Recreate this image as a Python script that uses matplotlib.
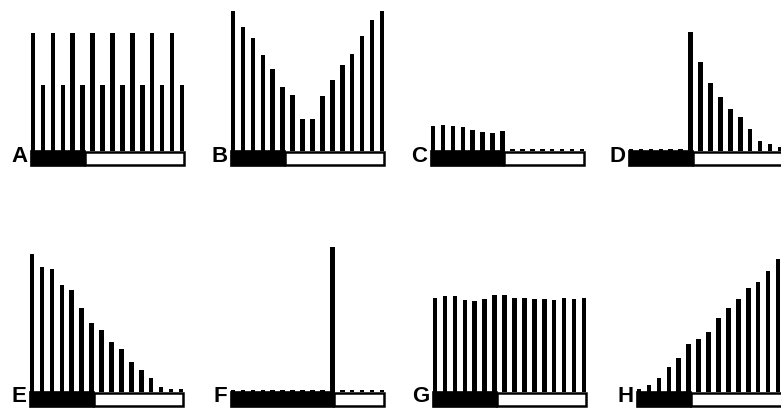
import numpy as np
import matplotlib.pyplot as plt
from matplotlib.patches import Rectangle

# Высоты столбиков (условные единицы), 16 импульсов в каждой панели
labels = ['A', 'B', 'C', 'D', 'E', 'F', 'G', 'H']

heights_a = [118, 66, 118, 66, 118, 66, 118, 66, 118, 66, 118, 66, 118, 66, 118, 66]
heights_b = [140, 124, 113, 96, 82, 64, 56, 32, 32, 55, 71, 86, 97, 115, 131, 140]
heights_c = [25, 26, 25, 24, 21, 19, 18, 20, 2, 2, 2, 2, 2, 2, 2, 2]
heights_d = [2, 2, 2, 2, 2, 2, 119, 89, 68, 54, 42, 34, 22, 10, 7, 4]
heights_e = [138, 125, 123, 107, 102, 84, 69, 62, 50, 43, 30, 22, 14, 5, 3, 3]
heights_f = [2, 2, 2, 2, 2, 2, 2, 2, 2, 2, 145, 2, 2, 2, 2, 2]
heights_g = [94, 96, 96, 92, 91, 93, 97, 97, 94, 94, 93, 93, 92, 94, 93, 94]
heights_h = [3, 7, 14, 25, 34, 48, 53, 60, 74, 84, 93, 104, 110, 121, 133, 143]

# Число импульсов в тёмной фазе (чёрная часть полосы)
dark_counts = [6, 6, 8, 7, 7, 11, 7, 6]

all_heights = [heights_a, heights_b, heights_c, heights_d,
               heights_e, heights_f, heights_g, heights_h]

# Положение панелей (пиксели: центр первого столбика, уровень основания)
W, H = 781, 409
step = 9.93
panel_x0 = [33, 233, 433, 631, 32, 233, 435, 639]
panel_y0 = [151, 151, 151, 151, 392, 392, 392, 392]

ymin, ymax = -15.5, 150
bar_h = 15

fig = plt.figure(figsize=(W / 100, H / 100), dpi=100)

for lab, hts, nd, x0, y0 in zip(labels, all_heights, dark_counts, panel_x0, panel_y0):
    left = (x0 - 0.5 * step) / W
    bottom = (H - (y0 - ymin)) / H
    ax = fig.add_axes([left, bottom, 16 * step / W, (ymax - ymin) / H])
    ax.set_xlim(-0.5, 15.5)
    ax.set_ylim(ymin, ymax)
    ax.axis('off')

    x = np.arange(len(hts))
    ax.bar(x, hts, width=0.46, bottom=0, color='black', linewidth=0, clip_on=False)

    # световая полоса: тёмная фаза чёрная, светлая - белая в рамке
    dark_end = nd - 0.8
    ax.add_patch(Rectangle((-0.2, -bar_h), dark_end + 0.2, bar_h,
                           facecolor='black', edgecolor='black', lw=1.2, clip_on=False))
    ax.add_patch(Rectangle((dark_end, -bar_h + 0.8), 15.2 - dark_end, bar_h - 1.6,
                           facecolor='white', edgecolor='black', lw=1.8, clip_on=False))

    ax.text(-0.55, -bar_h - 0.5, lab, ha='right', va='bottom', fontsize=16,
            fontweight='bold', family='Liberation Sans')

fig.savefig('out.png', dpi=100)
